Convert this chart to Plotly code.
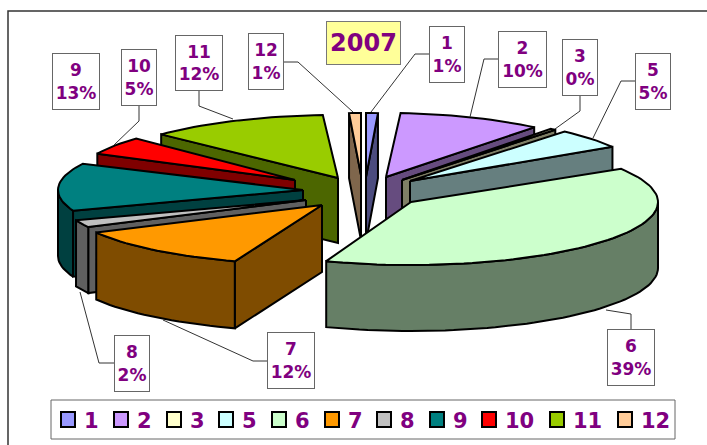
import math
import plotly.graph_objects as go

# ---- data ----
categories = ["1", "2", "3", "5", "6", "7", "8", "9", "10", "11", "12"]
values = [1, 10, 0.4, 5, 39.9, 12, 2, 13, 5, 12, 1]
title_text = "2007"

# ---- styles / geometry of the exploded, tilted pie (pixels) ----
colors = ["#9999FF", "#CC99FF", "#FFFFCC", "#CCFFFF", "#CCFFCC", "#FF9900",
          "#C0C0C0", "#008080", "#FF0000", "#99CC00", "#FFCC99"]
apex_x = [366, 386, 402, 410, 411, 322, 306, 303, 295, 338, 361]
apex_y = [177, 177, 180, 181, 202, 205, 200, 190, 180, 178, 175]
rad_a = [193, 235, 236, 238, 247, 254, 245, 245, 220, 245, 193]
rad_b = [64, 64, 66, 65, 63, 60, 59, 60, 60, 63, 62]
depth = [65, 65, 65, 65, 66, 67, 66, 66, 65, 65, 65]
draw_order = [10, 0, 1, 2, 3, 9, 8, 7, 6, 5, 4]

label_boxes = [(429, 26, 465, 83), (498, 31, 547, 88), (562, 39, 598, 96),
               (635, 53, 671, 110), (607, 329, 655, 386), (267, 332, 315, 389),
               (114, 335, 150, 392), (52, 53, 100, 110), (121, 49, 157, 106),
               (175, 35, 223, 91), (248, 33, 284, 90)]
leaders = [[(429, 54), (415, 54), (371, 112)], [(498, 59), (484, 59), (470, 117)],
           [(580, 96), (580, 111), (555, 129)], [(635, 81), (621, 81), (593, 138)],
           [(631, 329), (631, 314), (606, 310)], [(267, 361), (253, 361), (163, 320)],
           [(114, 363), (99, 363), (80, 292)], None, [(139, 106), (139, 121), (114, 145)],
           [(199, 91), (199, 106), (233, 119)], [(284, 62), (298, 62), (353, 112)]]
legend_swatch_x = [60, 113, 166, 218, 271, 324, 376, 429, 481, 549, 617]

PURPLE = "#800080"
FONT = "DejaVu Sans"


def darker(hex_color):
    r, g, b = (int(hex_color[i:i + 2], 16) for i in (1, 3, 5))
    return f"rgb({r // 2},{g // 2},{b // 2})"


total = sum(values)
fig = go.Figure()


def add_poly(xs, ys, fill, width=2):
    fig.add_trace(go.Scatter(x=xs, y=ys, mode="lines", fill="toself", fillcolor=fill,
                             line=dict(color="black", width=width), hoverinfo="skip",
                             showlegend=False))


starts = []
acc = 0
for v in values:
    starts.append(acc / total * 360)
    acc += v

for i in draw_order:
    t1 = starts[i]
    t2 = t1 + values[i] / total * 360
    cx, cy, a, b, d = apex_x[i], apex_y[i], rad_a[i], rad_b[i], depth[i]
    col = colors[i]
    wall = darker(col)

    def pt(deg):
        r = math.radians(deg)
        return cx + a * math.sin(r), cy - b * math.cos(r)

    n = max(3, int((t2 - t1) / 2))
    angs = [t1 + (t2 - t1) * k / n for k in range(n + 1)]

    # radial side faces that face the viewer
    if math.sin(math.radians(t1)) < 0:
        px, py = pt(t1)
        add_poly([cx, px, px, cx, cx], [cy, py, py + d, cy + d, cy], wall)
    if math.sin(math.radians(t2)) > 0:
        px, py = pt(t2)
        add_poly([cx, px, px, cx, cx], [cy, py, py + d, cy + d, cy], wall)
    # outer rim, front half only
    lo, hi = max(t1, 90), min(t2, 270)
    if hi > lo:
        m = max(3, int((hi - lo) / 2))
        rim = [lo + (hi - lo) * k / m for k in range(m + 1)]
        top = [pt(q) for q in rim]
        xs = [p[0] for p in top] + [p[0] for p in reversed(top)]
        ys = [p[1] for p in top] + [p[1] + d for p in reversed(top)]
        add_poly(xs + xs[:1], ys + ys[:1], wall)
    # top face
    arc = [pt(q) for q in angs]
    add_poly([cx] + [p[0] for p in arc] + [cx], [cy] + [p[1] for p in arc] + [cy], col)

# leader lines
for pts in leaders:
    if pts:
        fig.add_trace(go.Scatter(x=[p[0] for p in pts], y=[p[1] for p in pts], mode="lines",
                                 line=dict(color="#333333", width=1), hoverinfo="skip",
                                 showlegend=False))

annotations = []
shapes = [dict(type="rect", x0=8, y0=11, x1=730, y1=470,
               line=dict(color="#333333", width=1.5), layer="below")]

# data labels
for i, cat in enumerate(categories):
    x0, y0, x1, y1 = label_boxes[i]
    pct = round(values[i] / total * 100)
    annotations.append(dict(x=(x0 + x1) / 2, y=(y0 + y1) / 2, xref="x", yref="y",
                            text=f"<b>{cat}<br>{pct}%</b>", showarrow=False,
                            width=x1 - x0 - 2, height=y1 - y0 - 2, align="center", valign="middle",
                            bgcolor="white", bordercolor="#666666", borderwidth=1, borderpad=0,
                            font=dict(family=FONT, size=17, color=PURPLE)))

# title
annotations.append(dict(x=363.5, y=43, xref="x", yref="y", text=f"<b>{title_text}</b>",
                        showarrow=False, width=73, height=42, align="center", valign="middle",
                        bgcolor="#FFFF99", bordercolor="#777777", borderwidth=1, borderpad=0,
                        font=dict(family=FONT, size=24, color=PURPLE)))

# legend
shapes.append(dict(type="rect", x0=51, y0=400, x1=675, y1=439,
                   line=dict(color="#666666", width=1), fillcolor="white", layer="below"))
for i, cat in enumerate(categories):
    sx = legend_swatch_x[i]
    shapes.append(dict(type="rect", x0=sx + 1, y0=412, x1=sx + 15, y1=427,
                       line=dict(color="black", width=2), fillcolor=colors[i]))
    annotations.append(dict(x=sx + 22, y=420.5, xref="x", yref="y", xanchor="left", yanchor="middle",
                            text=f"<b>{cat}</b>", showarrow=False,
                            font=dict(family=FONT, size=21, color=PURPLE)))

fig.update_layout(width=707, height=445, margin=dict(l=0, r=0, t=0, b=0),
                  paper_bgcolor="white", plot_bgcolor="white", showlegend=False,
                  xaxis=dict(range=[0, 707], visible=False, fixedrange=True),
                  yaxis=dict(range=[445, 0], visible=False, fixedrange=True),
                  shapes=shapes, annotations=annotations)
fig.write_html("out.html", config=dict(displayModeBar=False),
               post_script="document.body.style.margin='0';document.documentElement.style.overflow='hidden';")
